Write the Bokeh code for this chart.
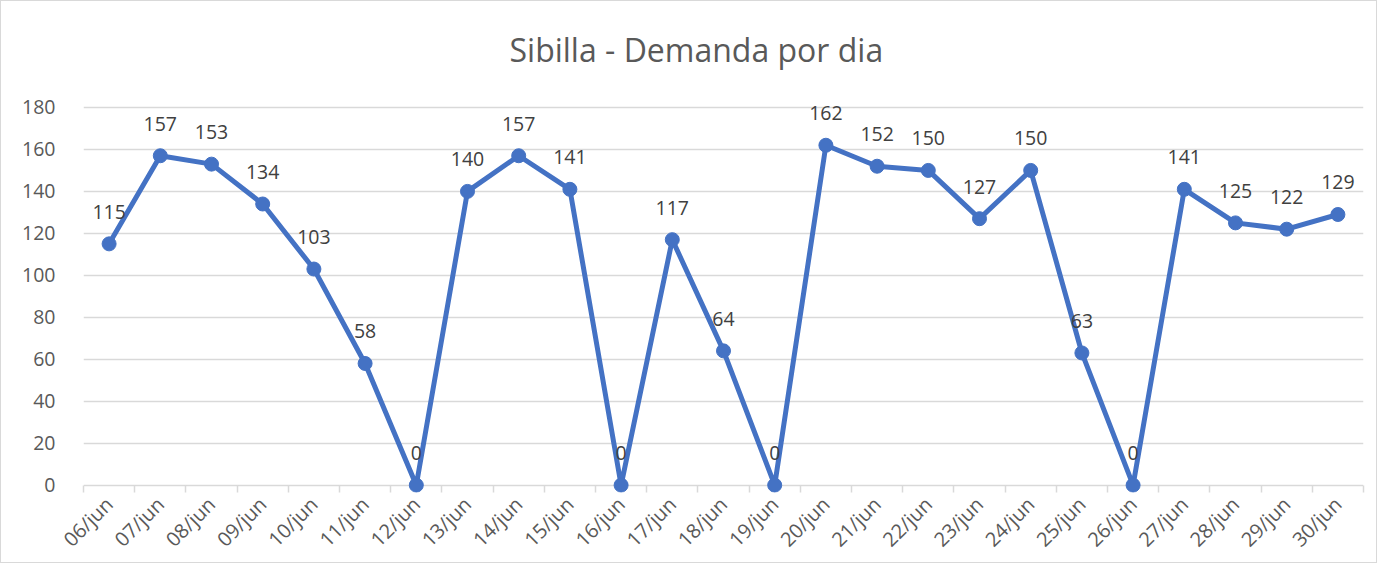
import numpy as np
from bokeh.plotting import figure
from bokeh.models import ColumnDataSource, FixedTicker, Range1d, LabelSet
from bokeh.core.properties import value
from bokeh.embed import file_html
from bokeh.resources import INLINE

days = ["06/jun", "07/jun", "08/jun", "09/jun", "10/jun", "11/jun", "12/jun",
        "13/jun", "14/jun", "15/jun", "16/jun", "17/jun", "18/jun", "19/jun",
        "20/jun", "21/jun", "22/jun", "23/jun", "24/jun", "25/jun", "26/jun",
        "27/jun", "28/jun", "29/jun", "30/jun"]
demanda = [115, 157, 153, 134, 103, 58, 0, 140, 157, 141, 0, 117, 64, 0,
           162, 152, 150, 127, 150, 63, 0, 141, 125, 122, 129]
y_ticks = [0, 20, 40, 60, 80, 100, 120, 140, 160, 180]

n = len(days)
xs = np.arange(n) + 0.5
src = ColumnDataSource(dict(x=xs, y=demanda, lab=[str(v) for v in demanda]))

FONT = "Open Sans"
GRAY = "#595959"
BLUE = "#4472C4"

# y range padded a little so markers at 0 and labels near 180 are not clipped
p = figure(width=1377, height=563, output_backend="svg", toolbar_location=None,
           x_range=Range1d(0, n), y_range=Range1d(-3.5, 190),
           min_border_left=82, min_border_right=15, min_border_top=85, min_border_bottom=70,
           title="Sibilla - Demanda por dia")
p.styles = {"border": "1px solid #d9d9d9"}
p.outline_line_color = None
p.background_fill_color = "white"

p.title.align = "left"
p.title.offset = 426
p.title.standoff = 31
p.title.text_font = FONT
p.title.text_font_style = "normal"
p.title.text_font_size = "32px"
p.title.text_color = GRAY

# y axis
p.yaxis.ticker = FixedTicker(ticks=y_ticks)
p.yaxis.axis_line_color = None
p.yaxis.major_tick_line_color = None
p.yaxis.minor_tick_line_color = None
p.yaxis.major_label_text_font = FONT
p.yaxis.major_label_text_font_size = "19.5px"
p.yaxis.major_label_text_color = GRAY
p.yaxis.major_label_standoff = 22

# x axis (category boundaries as minor ticks reaching up to the zero line)
p.xaxis.ticker = FixedTicker(ticks=list(xs), minor_ticks=list(np.arange(n + 1)))
p.xaxis.major_label_overrides = {float(x): d for x, d in zip(xs, days)}
p.xaxis.major_label_orientation = np.pi / 4
p.xaxis.major_tick_line_color = None
p.xaxis.major_tick_out = 0
p.xaxis.major_tick_in = 0
p.xaxis.minor_tick_line_color = "#d9d9d9"
p.xaxis.minor_tick_line_width = 1.5
p.xaxis.minor_tick_out = 0
p.xaxis.minor_tick_in = 7
p.xaxis.axis_line_color = None
p.xaxis.major_label_text_font = FONT
p.xaxis.major_label_text_font_size = "20px"
p.xaxis.major_label_text_color = GRAY
p.xaxis.major_label_standoff = 8

p.xgrid.grid_line_color = None
p.ygrid.ticker = FixedTicker(ticks=y_ticks)
p.ygrid.grid_line_color = "#d9d9d9"
p.ygrid.grid_line_width = 1.3

p.line("x", "y", source=src, line_color=BLUE, line_width=5, line_join="round")
p.scatter("x", "y", source=src, size=14, fill_color=BLUE, line_color=BLUE)

labels = LabelSet(x="x", y="y", text="lab", source=src, text_align="center",
                  text_baseline="middle", y_offset=32, text_font=value(FONT),
                  text_font_size="19.5px", text_color="#404040", level="overlay")
p.add_layout(labels)

open("out.html", "w").write(file_html(p, INLINE))
